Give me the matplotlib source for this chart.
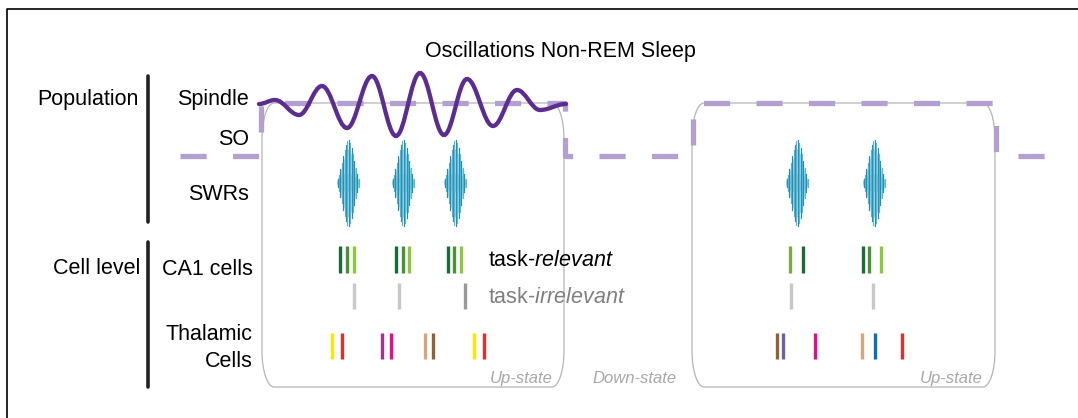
import matplotlib.pyplot as plt
from matplotlib.path import Path
from matplotlib.patches import PathPatch, Ellipse

plt.rcParams['font.family'] = ['Liberation Sans', 'DejaVu Sans']
plt.rcParams['mathtext.fontset'] = 'custom'
plt.rcParams['mathtext.rm'] = 'Liberation Sans'
plt.rcParams['mathtext.it'] = 'Liberation Sans:italic'
plt.rcParams['lines.scale_dashes'] = False

# Slow oscillation: square wave corners (x, y)
so_x = [180, 261, 261, 565, 565, 693, 693, 996, 996, 1060]
so_y = [156, 156, 103, 103, 156, 156, 103, 103, 156, 156]

# Spindle extrema (x, y)
spindle_x = [259, 275, 299, 322, 347, 372, 396, 420, 444, 467, 493, 517, 540, 566]
spindle_y = [104, 100, 115, 86, 128, 76, 136, 73, 135, 79, 126, 90, 110, 104]

# Up-state boxes (left, right)
box_left = [262, 692]
box_right = [564, 995]

# Sharp-wave ripples: centres and stroke half-heights
swr_x = [348, 403, 455, 797, 874]
swr_env = [4, 8, 14, 20, 27, 33, 38, 42, 43, 40, 35, 29, 22, 15, 9, 4]

# CA1 cells
dk, md, lt = '#1b6b38', '#4a9134', '#8dc641'
rel_x = [340, 347, 354, 396, 403, 409, 448, 454, 461, 790, 803, 863, 869, 881]
rel_c = [dk, md, lt, dk, md, lt, dk, md, lt, '#7aab3b', dk, dk, md, lt]
irr_x = [354, 399, 465, 791, 873]
irr_c = ['#c8c8c8', '#c8c8c8', '#9a9a9a', '#c8c8c8', '#c8c8c8']

# Thalamic cells
thal_x = [332, 342, 382, 391, 425, 433, 474, 484, 777, 783, 815, 862, 875, 902]
thal_c = ['#ffe500', '#ec2a2a', '#b12a8f', '#ec098d', '#d9a577', '#8b6336',
          '#ffe500', '#ec2a2a', '#8b6336', '#6b5fae', '#ec098d', '#d9a577',
          '#0f6db5', '#ec2a2a']

row_labels = ['Spindle', 'SO', 'SWRs', 'CA1 cells', 'Thalamic', 'Cells']
row_y = [105, 145, 200, 275, 340, 367]

fig = plt.figure(figsize=(10.78, 4.18), dpi=100)
ax = fig.add_axes([0, 0, 1, 1])
ax.set_xlim(0, 1078)
ax.set_ylim(418, 0)
ax.axis('off')

# frame
ax.plot([7, 7, 1078], [418, 9, 9], color='black', lw=1.2)

# up-state boxes with rounded corners
rx, ry, k = 12, 36, 0.55
for x0, x1 in zip(box_left, box_right):
    y0, y1 = 103, 387
    verts = [(x0 + rx, y0), (x1 - rx, y0),
             (x1 - rx + k * rx, y0), (x1, y0 + ry - k * ry), (x1, y0 + ry),
             (x1, y1 - ry),
             (x1, y1 - ry + k * ry), (x1 - rx + k * rx, y1), (x1 - rx, y1),
             (x0 + rx, y1),
             (x0 + rx - k * rx, y1), (x0, y1 - ry + k * ry), (x0, y1 - ry),
             (x0, y0 + ry),
             (x0, y0 + ry - k * ry), (x0 + rx - k * rx, y0), (x0 + rx, y0)]
    codes = [Path.MOVETO, Path.LINETO] + [Path.CURVE4] * 3 + [Path.LINETO] + \
        [Path.CURVE4] * 3 + [Path.LINETO] + [Path.CURVE4] * 3 + [Path.LINETO] + [Path.CURVE4] * 3
    ax.add_patch(PathPatch(Path(verts, codes), fc='none', ec='#b5b5b5', lw=0.9, zorder=1))

# slow oscillation
ax.plot(so_x, so_y, color='#b39fd0', lw=3.8, dashes=(18.8, 19), solid_capstyle='butt', zorder=2)

# spindle as smooth curve through extrema
verts = [(spindle_x[0], spindle_y[0])]
codes = [Path.MOVETO]
for i in range(1, len(spindle_x)):
    d = (spindle_x[i] - spindle_x[i - 1]) * 0.37
    verts += [(spindle_x[i - 1] + d, spindle_y[i - 1]), (spindle_x[i] - d, spindle_y[i]),
              (spindle_x[i], spindle_y[i])]
    codes += [Path.CURVE4] * 3
ax.add_patch(PathPatch(Path(verts, codes), fc='none', ec='#5c2d91', lw=3.1,
                       capstyle='round', zorder=3))

# sharp-wave ripples
n = len(swr_env)
for cx in swr_x:
    xs = [cx + (j - (n - 1) / 2) * 1.4 for j in range(n)]
    ax.fill_between(xs, [183 - 0.8 * h for h in swr_env], [183 + 0.8 * h for h in swr_env],
                    color='#a6d8e6', lw=0, zorder=2)
    ax.add_patch(Ellipse((cx, 183), 22, 18, color='#7fc4d8', alpha=0.8, lw=0, zorder=2))
    for j, h in enumerate(swr_env):
        c = '#1f8fb8' if j % 2 == 0 else '#5fb6d0'
        ax.plot([xs[j], xs[j]], [183 - h, 183 + h], color=c, lw=0.85, zorder=3)

# cell spikes
ax.vlines(rel_x, 246, 273, colors=rel_c, lw=2.4)
ax.vlines(irr_x, 283, 309, colors=irr_c, lw=2.4)
ax.vlines(thal_x, 333, 359, colors=thal_c, lw=2.4)

# group bars
ax.plot([148, 148], [76, 222], color='#222222', lw=2.6, solid_capstyle='round')
ax.plot([148, 148], [242, 387], color='#222222', lw=2.6, solid_capstyle='round')

# text
fs = 15.5
ax.text(560, 57, 'Oscillations Non-REM Sleep', fontsize=fs, ha='center', va='baseline')
ax.text(139, 105, 'Population', fontsize=fs, ha='right', va='baseline')
ax.text(140, 274, 'Cell level', fontsize=fs, ha='right', va='baseline')
for lab, y in zip(row_labels, row_y):
    xr = 249 if y < 250 else 253
    ax.text(xr, y, lab, fontsize=fs, ha='right', va='baseline')
ax.text(488, 266, r'task-$\mathit{relevant}$', fontsize=fs, ha='left', va='baseline')
ax.text(488, 303, r'task-$\mathit{irrelevant}$', fontsize=fs, ha='left', va='baseline',
        color='#7f7f7f')
ax.text(553, 383, 'Up-state', fontsize=12, style='italic', color='#a8a8a8', ha='right', va='baseline')
ax.text(635, 383, 'Down-state', fontsize=12, style='italic', color='#a8a8a8', ha='center', va='baseline')
ax.text(983, 383, 'Up-state', fontsize=12, style='italic', color='#a8a8a8', ha='right', va='baseline')

fig.savefig('out.png', dpi=100)
